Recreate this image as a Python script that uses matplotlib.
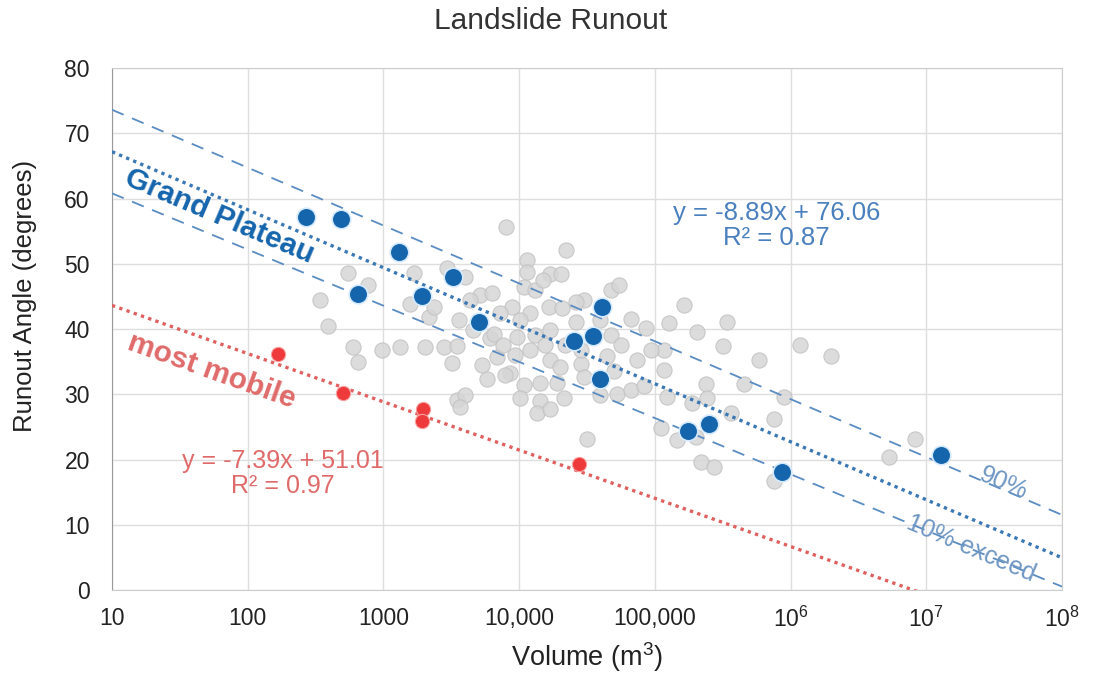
import numpy as np
import matplotlib.pyplot as plt

plt.rcParams['font.family'] = ['Liberation Sans', 'DejaVu Sans']
plt.rcParams['mathtext.default'] = 'regular'

# all landslides (grey)
all_vol = [341, 393, 552, 774, 601, 653, 973, 1327, 1687, 1574,
           2031, 2148, 2339, 2774, 2938, 3199, 3484, 3581, 3484, 4009,
           3681, 4009, 5176, 6310, 5321, 5796, 6124, 6871, 8054, 11430,
           11480, 16980, 20370, 22280, 10790, 13180, 8872, 7261, 12110, 16520,
           20750, 29920, 26000, 47100, 54200, 66200, 85300, 126800, 162900, 9660,
           13180, 16980, 26000, 6490, 8610, 10790, 14320, 19050, 10200, 14320,
           21280, 13550, 16980, 12110, 16980, 20140, 28310, 29920, 44570, 52840,
           66200, 82960, 116400, 123600, 110200, 146200, 31700, 49770, 116400, 74130,
           341400, 205600, 319900, 586000, 1.175e6, 1.98e6, 236600, 453900, 891300, 755200,
           188800, 243800, 362300, 217300, 272300, 199500, 8.26e6, 5.33e6, 755200, 7906,
           28310, 7640, 9380, 15600, 21900, 47100, 55800, 39700, 92900, 39700,
           10200, 4590, 4370, 15070]
all_ang = [44.4, 40.5, 48.6, 46.7, 37.2, 34.9, 36.8, 37.3, 48.6, 43.9,
           37.3, 41.9, 43.4, 37.3, 49.3, 34.8, 37.4, 41.4, 29.1, 29.9,
           28.0, 48.0, 45.2, 45.5, 34.5, 32.3, 38.6, 35.7, 55.7, 50.6,
           48.8, 48.4, 48.5, 52.1, 46.5, 46.0, 43.4, 42.4, 42.4, 43.4,
           43.2, 44.4, 44.2, 46.0, 46.7, 41.6, 40.1, 40.9, 43.7, 38.8,
           39.1, 39.8, 41.1, 39.3, 33.2, 31.4, 31.7, 31.7, 29.4, 28.9,
           29.4, 27.1, 27.8, 36.8, 35.2, 34.2, 34.7, 32.7, 35.8, 30.1,
           30.7, 31.2, 33.7, 29.6, 24.8, 23.0, 23.2, 33.5, 36.8, 35.2,
           41.1, 39.5, 37.4, 35.3, 37.5, 35.8, 31.6, 31.6, 29.6, 26.2,
           28.6, 29.4, 27.1, 19.6, 18.8, 23.5, 23.1, 20.4, 16.7, 33.0,
           36.8, 37.5, 36.0, 37.5, 37.5, 39.1, 37.5, 29.9, 36.8, 41.4,
           41.4, 39.8, 44.4, 47.5]

# Grand Plateau (blue)
gp_vol = [267, 486, 1312, 3281, 653, 1919, 5023, 40460, 25230, 34830,
          39080, 176200, 251800, 871000, 1.28e7]
gp_ang = [57.1, 56.8, 51.8, 47.9, 45.3, 45.0, 41.1, 43.3, 38.2, 38.9,
          32.3, 24.4, 25.5, 18.1, 20.7]

# most mobile (red)
mm_vol = [168, 501, 1972, 1919, 27480]
mm_ang = [36.1, 30.2, 27.7, 25.9, 19.3]

# fits: angle = a*log10(V) + b
gp_fit = (-8.89, 76.06)
mm_fit = (-7.39, 51.01)
p90 = (-8.87, 82.47)
p10 = (-8.61, 69.40)

xticks = [10, 100, 1000, 1e4, 1e5, 1e6, 1e7, 1e8]
xticklabels = ['10', '100', '1000', '10,000', '100,000',
               '$10^6$', '$10^7$', '$10^8$']

blue = '#1565ad'
line_blue = '#5a8cc2'
red = '#ee3a3a'
red_txt = '#e06a6a'

fig = plt.figure(figsize=(10.94, 6.74), dpi=100)
ax = fig.add_axes([0.1024, 0.1246, 0.8684, 0.7745])

ax.set_xscale('log')
ax.set_xlim(10, 1e8)
ax.set_ylim(0, 80)

xs = np.logspace(1, 8, 200)
for (a, b), ls, col, lw in [(p90, (0, (7, 5)), line_blue, 1.3),
                            (p10, (0, (7, 5)), line_blue, 1.3),
                            (gp_fit, (0, (1, 1.3)), '#3a78b5', 2.4)]:
    ax.plot(xs, a * np.log10(xs) + b, linestyle=ls, color=col, lw=lw, zorder=3)
ax.plot(xs, mm_fit[0] * np.log10(xs) + mm_fit[1], linestyle=(0, (1, 1.3)),
        color='#e06060', lw=2.4, zorder=3)

ax.scatter(all_vol, all_ang, s=120, color='#d6d6d6', edgecolor='#c2c2c2',
           linewidth=0.8, alpha=0.85, zorder=2)
ax.scatter(gp_vol, gp_ang, s=180, color=blue, edgecolor='#d6eaff',
           linewidth=1.2, zorder=4)
ax.scatter(mm_vol, mm_ang, s=105, color=red, edgecolor='#f7a0a0',
           linewidth=0.8, zorder=4)

ax.text(62, 57.3, 'Grand Plateau', color=blue, fontsize=21.5, fontweight='bold',
        rotation=-23, ha='center', va='center', rotation_mode='anchor')
ax.text(54, 33.6, 'most mobile', color=red_txt, fontsize=21.5, fontweight='bold',
        rotation=-19.6, ha='center', va='center', rotation_mode='anchor')
ax.text(7.9e5, 55.9, 'y = -8.89x + 76.06\nR² = 0.87', color='#4a80bd',
        fontsize=18.5, ha='center', va='center', linespacing=1.05)
ax.text(180, 17.8, 'y = -7.39x + 51.01\nR² = 0.97', color=red_txt,
        fontsize=18, ha='center', va='center', linespacing=1.05)
ax.text(3.74e7, 16.4, '90%', color='#6f97c4', fontsize=18, rotation=-23,
        ha='center', va='center', rotation_mode='anchor')
ax.text(2.14e7, 6.4, '10% exceed', color='#6f97c4', fontsize=18, rotation=-23,
        ha='center', va='center', rotation_mode='anchor')

ax.set_xticks(xticks)
ax.set_xticklabels(xticklabels)
ax.minorticks_off()
ax.set_yticks(range(0, 81, 10))
ax.tick_params(length=0, labelsize=16.5, colors='#222222')
ax.tick_params(axis='x', pad=12)
ax.tick_params(axis='y', pad=16)
ax.grid(True, color='#dedede', lw=1.0)
ax.set_axisbelow(True)
for s in ax.spines.values():
    s.set_color('#cccccc')
ax.spines['left'].set_color('#999999')

ax.set_xlabel('Volume (m$^3$)', fontsize=19.5, color='#222222', labelpad=6)
ax.set_ylabel('Runout Angle (degrees)', fontsize=18.5, color='#222222', va='center')
ax.yaxis.set_label_coords(-0.092, 0.563)
fig.suptitle('Landslide Runout', x=0.503, y=0.99, fontsize=21.5, color='#333333')

fig.savefig('out.png', dpi=100)
